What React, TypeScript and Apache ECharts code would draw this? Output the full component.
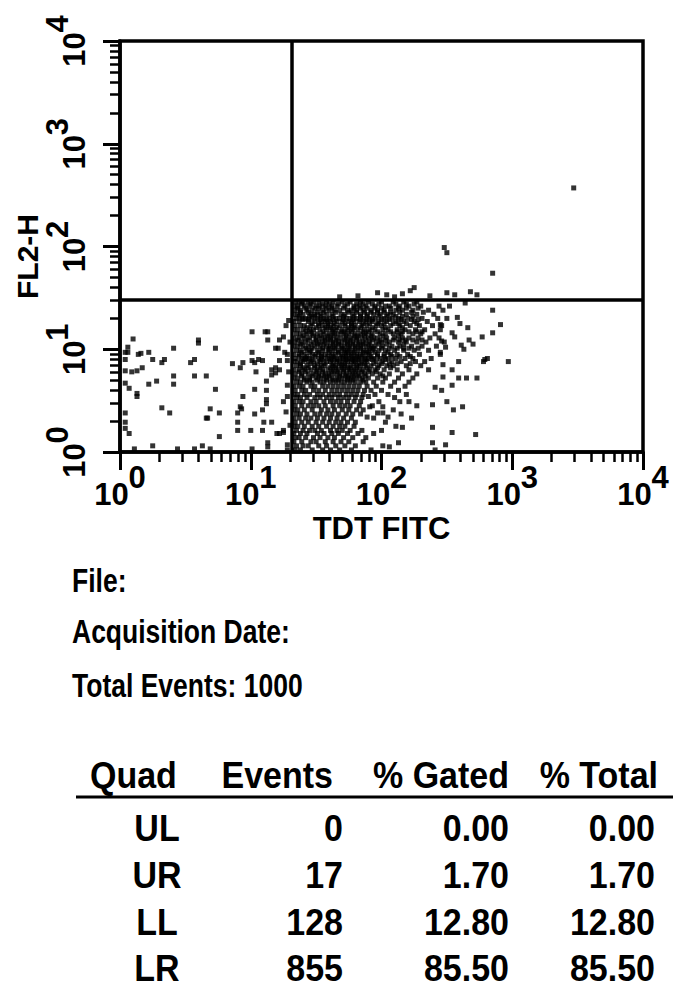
import React, { useEffect, useRef } from "react";
import * as echarts from "echarts";

const FONT = '"Liberation Sans", Arial, Helvetica, sans-serif';

// Both axes are 4-decade log scales; values below are log10 intensities.
const decades = [0, 1, 2, 3, 4];
const minorMultipliers = [2, 3, 4, 5, 6, 7, 8, 9];
const gateLog10 = [1.315, 1.479]; // [TDT FITC gate, FL2-H gate]

const urEvents: number[][] = [
  [3.47, 2.57], [2.48, 1.99], [2.5, 1.94], [2.85, 1.74], [1.97, 1.55], [2.04, 1.53],
  [2.16, 1.54], [2.22, 1.57], [2.25, 1.6], [2.5, 1.55], [2.56, 1.53], [2.68, 1.56],
  [2.73, 1.53], [1.82, 1.52], [2.1, 1.51], [2.37, 1.52], [1.68, 1.51],
];

const llEvents: number[][] = [
  [0.1, 1.1], [0.06, 1.02], [0.06, 0.97], [0.16, 0.96], [0.14, 0.95], [0.22, 0.97], [0.41, 1.01],
  [0.6, 1.09], [0.6, 1.06], [0.04, 0.9], [0.25, 0.9], [0.32, 0.87], [0.34, 0.9], [0.54, 0.87],
  [0.57, 0.9], [0.04, 0.79], [0.09, 0.78], [0.13, 0.79], [0.17, 0.82], [0.41, 0.74], [0.57, 0.74],
  [0.66, 0.74], [0.28, 0.69], [0.22, 0.66], [0.04, 0.67], [0.07, 0.62], [0.41, 0.66], [0.13, 0.57],
  [0.13, 0.54], [0.32, 0.43], [0.38, 0.38], [0.04, 0.38], [0.66, 0.33], [0.04, 0.29], [0.04, 0.23],
  [0.07, 0.18], [0.25, 0.06], [0.63, 0.06], [0.11, 0.03], [0.44, 0.03], [0.57, 0.03],
  [1.01, 1.17], [1.11, 1.17], [1.13, 1.17], [1.25, 1.12], [1.13, 1.09], [1.22, 1.09], [0.73, 1.01],
  [1.01, 0.97], [1.19, 1.01], [1.26, 0.97], [1.28, 0.95], [1.01, 0.89], [1.03, 0.87], [1.06, 0.9],
  [1.09, 0.89], [0.86, 0.86], [0.94, 0.87], [0.92, 0.82], [1.22, 0.89], [1.28, 0.89], [1.04, 0.78],
  [1.16, 0.8], [1.19, 0.82], [1.22, 0.8], [1.16, 0.75], [1.19, 0.77], [1.12, 0.69], [1.28, 0.65],
  [0.73, 0.61], [1.03, 0.61], [1.12, 0.6], [0.94, 0.54], [1.12, 0.51], [1.12, 0.47], [1.28, 0.54],
  [1.25, 0.49], [0.92, 0.44], [0.93, 0.42], [0.69, 0.42], [0.76, 0.38], [1.09, 0.41], [1.03, 0.37],
  [0.9, 0.38], [0.9, 0.29], [1.1, 0.29], [1.16, 0.29], [0.67, 0.33], [0.9, 0.21], [1.0, 0.21],
  [1.09, 0.21], [1.2, 0.18], [1.22, 0.18], [1.25, 0.19], [0.76, 0.15], [1.13, 0.09], [1.13, 0.05],
  [1.28, 0.07], [0.69, 0.03], [1.01, 0.03], [1.28, 0.02], [1.29, 1.28], [1.27, 1.23], [1.3, 1.07],
  [1.29, 0.78], [1.27, 0.39], [1.3, 0.26], [0.04, 0.97], [1.21, 1.01], [1.25, 0.21],
];

// LR events grouped by FL2-H level: [FL2-H, [TDT FITC values...]]
const lrRows: [number, number[]][] = [
  [1.46, [1.34, 1.37, 1.4, 1.44, 1.48, 1.52, 1.58, 1.63, 1.7, 1.76, 1.84, 1.9, 2.0, 2.09, 2.17, 2.27]],
  [1.42, [1.33, 1.36, 1.41, 1.45, 1.5, 1.53, 1.57, 1.62, 1.66, 1.72, 1.79, 1.83, 1.88, 1.95, 2.03, 2.06, 2.14, 2.21, 2.3, 2.44]],
  [1.38, [1.34, 1.38, 1.43, 1.47, 1.55, 1.6, 1.64, 1.68, 1.74, 1.77, 1.81, 1.86, 1.92, 1.97, 2.02, 2.11, 2.16, 2.24, 2.36]],
  [1.34, [1.33, 1.36, 1.4, 1.46, 1.49, 1.53, 1.58, 1.62, 1.69, 1.72, 1.78, 1.84, 1.89, 1.94, 1.99, 2.05, 2.09, 2.19, 2.27, 2.4]],
  [1.3, [1.35, 1.39, 1.42, 1.47, 1.51, 1.56, 1.6, 1.65, 1.68, 1.73, 1.76, 1.81, 1.86, 1.91, 1.95, 2.02, 2.08, 2.13, 2.2, 2.31, 2.43]],
  [1.27, [1.33, 1.37, 1.44, 1.49, 1.54, 1.57, 1.61, 1.66, 1.7, 1.75, 1.79, 1.83, 1.88, 1.93, 1.98, 2.04, 2.11, 2.17, 2.25, 2.35]],
  [1.23, [1.34, 1.38, 1.41, 1.46, 1.52, 1.55, 1.59, 1.63, 1.68, 1.72, 1.77, 1.8, 1.85, 1.89, 1.96, 2.0, 2.07, 2.14, 2.22, 2.29, 2.39, 2.46]],
  [1.19, [1.33, 1.36, 1.4, 1.45, 1.48, 1.53, 1.58, 1.62, 1.65, 1.7, 1.74, 1.78, 1.82, 1.87, 1.91, 1.95, 2.01, 2.05, 2.12, 2.18, 2.26, 2.33, 2.45]],
  [1.15, [1.35, 1.38, 1.43, 1.47, 1.51, 1.56, 1.6, 1.64, 1.67, 1.71, 1.75, 1.8, 1.84, 1.88, 1.93, 1.99, 2.03, 2.09, 2.15, 2.24, 2.3, 2.41]],
  [1.11, [1.33, 1.37, 1.41, 1.45, 1.5, 1.54, 1.57, 1.61, 1.66, 1.69, 1.73, 1.77, 1.81, 1.85, 1.9, 1.94, 1.97, 2.04, 2.1, 2.16, 2.21, 2.28, 2.37, 2.44]],
  [1.07, [1.34, 1.39, 1.42, 1.48, 1.52, 1.55, 1.59, 1.63, 1.67, 1.7, 1.74, 1.78, 1.83, 1.86, 1.91, 1.96, 2.0, 2.06, 2.13, 2.19, 2.27, 2.34, 2.48]],
  [1.03, [1.33, 1.36, 1.4, 1.44, 1.49, 1.53, 1.58, 1.61, 1.65, 1.69, 1.72, 1.76, 1.8, 1.84, 1.88, 1.92, 1.95, 2.01, 2.08, 2.14, 2.23, 2.31, 2.42]],
  [0.99, [1.35, 1.38, 1.43, 1.46, 1.51, 1.55, 1.59, 1.63, 1.67, 1.71, 1.74, 1.78, 1.82, 1.86, 1.89, 1.93, 1.98, 2.03, 2.1, 2.17, 2.25, 2.36]],
  [0.95, [1.33, 1.37, 1.41, 1.47, 1.5, 1.54, 1.57, 1.62, 1.65, 1.69, 1.73, 1.77, 1.81, 1.84, 1.88, 1.91, 1.97, 2.02, 2.07, 2.12, 2.2, 2.29, 2.45]],
  [0.91, [1.34, 1.39, 1.42, 1.45, 1.52, 1.56, 1.6, 1.64, 1.68, 1.71, 1.75, 1.79, 1.83, 1.87, 1.9, 1.94, 1.99, 2.05, 2.11, 2.18, 2.24, 2.38]],
  [0.88, [1.33, 1.36, 1.4, 1.44, 1.48, 1.53, 1.58, 1.61, 1.66, 1.7, 1.74, 1.77, 1.8, 1.85, 1.89, 1.96, 2.01, 2.08, 2.15, 2.26, 2.33]],
  [0.84, [1.35, 1.38, 1.43, 1.49, 1.54, 1.57, 1.62, 1.65, 1.69, 1.72, 1.76, 1.81, 1.84, 1.88, 1.92, 1.98, 2.04, 2.09, 2.19, 2.3]],
  [0.8, [1.33, 1.37, 1.41, 1.46, 1.51, 1.55, 1.59, 1.63, 1.67, 1.71, 1.75, 1.79, 1.83, 1.86, 1.91, 1.95, 2.02, 2.12, 2.21, 2.36]],
  [0.76, [1.34, 1.39, 1.44, 1.48, 1.52, 1.57, 1.6, 1.64, 1.68, 1.73, 1.78, 1.82, 1.87, 1.93, 1.99, 2.06, 2.16, 2.27]],
  [0.72, [1.33, 1.36, 1.41, 1.45, 1.5, 1.54, 1.58, 1.62, 1.66, 1.7, 1.74, 1.77, 1.81, 1.85, 1.9, 1.97, 2.03, 2.13, 2.24]],
  [0.68, [1.35, 1.38, 1.43, 1.47, 1.53, 1.56, 1.61, 1.65, 1.69, 1.72, 1.76, 1.8, 1.84, 1.88, 1.94, 2.01, 2.1, 2.21]],
  [0.64, [1.33, 1.37, 1.4, 1.46, 1.49, 1.55, 1.59, 1.63, 1.67, 1.71, 1.75, 1.79, 1.83, 1.89, 1.96, 2.07, 2.18]],
  [0.6, [1.34, 1.39, 1.42, 1.48, 1.52, 1.57, 1.62, 1.66, 1.7, 1.74, 1.78, 1.82, 1.87, 1.92, 2.0]],
  [0.56, [1.33, 1.36, 1.41, 1.45, 1.51, 1.55, 1.6, 1.64, 1.68, 1.73, 1.77, 1.81, 1.86, 1.95, 2.05, 2.19]],
  [0.53, [1.35, 1.38, 1.43, 1.49, 1.53, 1.58, 1.62, 1.67, 1.71, 1.75, 1.8, 1.85, 2.1]],
  [0.49, [1.33, 1.37, 1.4, 1.46, 1.5, 1.56, 1.61, 1.65, 1.69, 1.74, 1.79, 1.84, 1.98, 2.21]],
  [0.45, [1.34, 1.39, 1.44, 1.48, 1.52, 1.57, 1.63, 1.68, 1.72, 1.76, 1.83, 1.93, 2.27]],
  [0.41, [1.33, 1.36, 1.41, 1.47, 1.54, 1.59, 1.64, 1.7, 1.75, 1.81, 1.86, 2.09]],
  [0.37, [1.35, 1.38, 1.43, 1.49, 1.53, 1.58, 1.62, 1.67, 1.73, 1.78, 1.84, 2.15]],
  [0.33, [1.33, 1.37, 1.42, 1.46, 1.51, 1.56, 1.61, 1.66, 1.71, 1.77, 1.94, 2.23]],
  [0.29, [1.34, 1.39, 1.44, 1.5, 1.55, 1.6, 1.65, 1.69, 1.74, 1.8, 2.03]],
  [0.25, [1.33, 1.36, 1.41, 1.47, 1.52, 1.58, 1.63, 1.68, 1.72, 1.79, 2.11]],
  [0.21, [1.35, 1.4, 1.45, 1.49, 1.54, 1.61, 1.66, 1.7, 1.76, 1.85, 2.0]],
  [0.18, [1.33, 1.38, 1.43, 1.51, 1.56, 1.62, 1.67, 1.74, 1.82, 1.94]],
  [0.14, [1.34, 1.37, 1.42, 1.48, 1.53, 1.59, 1.64, 1.71, 1.78, 1.88]],
  [0.1, [1.33, 1.39, 1.46, 1.5, 1.57, 1.63, 1.69, 1.75, 1.86]],
  [0.06, [1.35, 1.4, 1.44, 1.52, 1.58, 1.65, 1.72, 1.8, 2.01]],
  [0.02, [1.34, 1.38, 1.47, 1.55, 1.61, 1.68, 1.77, 1.92]],
];

// Extra events in the darkest part of the LR cluster (between the rows above)
const lrCoreRows: [number, number[]][] = [
  [1.44, [1.39, 1.46, 1.55, 1.6, 1.67, 1.74, 1.81, 1.86, 1.93, 1.98, 2.11, 2.19, 2.25]],
  [1.4, [1.36, 1.42, 1.49, 1.52, 1.58, 1.62, 1.71, 1.79, 1.84, 1.89, 1.95, 2.0, 2.07, 2.13, 2.19, 2.28]],
  [1.36, [1.38, 1.44, 1.51, 1.56, 1.65, 1.75, 1.81, 1.87, 1.92, 1.97, 2.02, 2.07, 2.14, 2.23, 2.32]],
  [1.32, [1.37, 1.45, 1.49, 1.54, 1.63, 1.71, 1.79, 1.84, 1.89, 1.98, 2.04, 2.11, 2.16, 2.24]],
  [1.29, [1.4, 1.44, 1.53, 1.58, 1.63, 1.71, 1.78, 1.84, 1.89, 1.93, 2.0, 2.06, 2.15, 2.23, 2.28]],
  [1.25, [1.47, 1.52, 1.59, 1.64, 1.72, 1.77, 1.86, 1.91, 1.97, 2.02, 2.09, 2.13, 2.19, 2.27]],
  [1.21, [1.43, 1.5, 1.57, 1.61, 1.66, 1.75, 1.79, 1.84, 1.93, 2.03, 2.16]],
  [1.17, [1.42, 1.46, 1.55, 1.63, 1.69, 1.72, 1.77, 1.86, 1.9, 1.97, 2.07, 2.12, 2.16, 2.21, 2.27, 2.31]],
  [1.13, [1.4, 1.48, 1.53, 1.59, 1.63, 1.73, 1.79, 1.82, 1.87, 1.92, 2.01, 2.13]],
  [1.09, [1.36, 1.44, 1.5, 1.57, 1.61, 1.65, 1.72, 1.76, 1.81, 1.88, 1.93, 1.99, 2.03, 2.09, 2.14, 2.18, 2.24, 2.31]],
  [1.05, [1.38, 1.46, 1.51, 1.56, 1.63, 1.67, 1.74, 1.78, 1.82, 1.86, 1.9, 1.98, 2.04, 2.17]],
  [1.01, [1.42, 1.47, 1.55, 1.6, 1.64, 1.7, 1.75, 1.8, 1.84, 1.91, 1.94, 2.0, 2.06, 2.12, 2.17, 2.21, 2.28]],
  [0.97, [1.39, 1.45, 1.52, 1.6, 1.67, 1.72, 1.75, 1.79, 1.86, 1.9, 1.95, 2.05]],
  [0.93, [1.37, 1.43, 1.49, 1.54, 1.59, 1.63, 1.7, 1.73, 1.77, 1.81, 1.85, 1.92, 1.97, 2.02, 2.08, 2.14, 2.22]],
  [0.9, [1.41, 1.47, 1.54, 1.62, 1.66, 1.73, 1.78, 1.82, 1.88, 1.93, 2.03]],
  [0.86, [1.38, 1.46, 1.51, 1.56, 1.63, 1.68, 1.72, 1.79, 1.83, 1.87, 1.94, 2.0, 2.06, 2.12, 2.22]],
  [0.82, [1.4, 1.44, 1.49, 1.53, 1.61, 1.65, 1.7, 1.74, 1.77, 1.81, 1.89, 1.97, 2.07]],
  [0.78, [1.37, 1.42, 1.5, 1.55, 1.62, 1.66, 1.71, 1.76, 1.8, 1.85, 1.9, 1.96]],
  [0.74, [1.39, 1.47, 1.52, 1.56, 1.6, 1.68, 1.72, 1.75, 1.79, 1.83, 1.88, 2.01]],
  [0.7, [1.41, 1.45, 1.51, 1.58, 1.63, 1.67, 1.74, 1.78, 1.86]],
];

const lrSparse: number[][] = [
  [2.13, 0.6], [2.14, 0.49], [2.41, 0.63], [2.5, 0.49], [2.55, 0.41], [2.62, 0.44], [2.73, 0.72],
  [2.65, 0.72], [2.59, 0.72], [2.79, 0.9], [2.97, 0.88], [2.85, 1.16], [2.91, 1.24], [2.85, 1.38],
  [2.77, 1.12], [2.54, 0.19], [2.72, 0.17], [2.01, 0.38], [2.05, 0.34], [2.16, 0.24], [2.39, 0.09],
  [2.41, 0.02], [2.13, 0.09], [2.06, 0.05], [2.47, 0.85], [2.54, 0.8], [2.47, 0.73], [2.54, 0.65],
  [2.46, 0.6], [2.78, 0.88], [2.81, 0.91], [2.59, 0.88], [2.49, 0.07], [1.9, 0.54], [1.91, 0.44],
  [2.01, 0.44], [2.39, 0.46], [1.89, 0.34], [1.97, 0.38], [2.39, 0.24], [2.47, 1.38], [2.5, 1.3],
  [2.45, 1.24], [2.6, 1.25], [2.66, 1.21], [2.54, 1.16], [2.56, 1.12], [2.67, 1.09], [2.7, 1.05],
  [2.46, 1.08], [2.49, 1.02], [2.45, 0.97], [2.61, 1.04], [2.63, 1.0], [2.58, 1.31], [2.52, 1.42],
  [2.64, 1.45],
];

const infoLines = ["File:", "Acquisition Date:", "Total Events: 1000"];
const tableHeader = ["Quad", "Events", "% Gated", "% Total"];
const quadNames = ["UL", "UR", "LL", "LR"];
const quadEvents = [0, 17, 128, 855];
const quadGated = [0.0, 1.7, 12.8, 85.5];
const quadTotal = [0.0, 1.7, 12.8, 85.5];

const minorTicks = decades
  .slice(0, -1)
  .flatMap((d) => minorMultipliers.map((m) => d + Math.log10(m)));

const rowsToEvents = (rows: [number, number[]][]) =>
  rows.flatMap(([y, xs]) => xs.map((x) => [x, y]));
const lrEvents = [...rowsToEvents(lrRows), ...rowsToEvents(lrCoreRows), ...lrSparse];
const allEvents = [...urEvents, ...llEvents, ...lrEvents];

const labelRich = {
  b: { fontFamily: FONT, fontSize: 31, fontWeight: "bold", color: "#000", padding: [17, 0, 0, 0] },
  s: { fontFamily: FONT, fontSize: 31, fontWeight: "bold", color: "#000", verticalAlign: "top" },
};
const powerLabel = (v: number) => `{b|10}{s|${Math.round(v)}}`;

function textEl(text: string, x: number, y: number, size: number, align: string, sy: number) {
  return {
    type: "text",
    x,
    y,
    scaleY: sy,
    silent: true,
    style: {
      text,
      fill: "#000",
      fontSize: size,
      fontWeight: "bold",
      fontFamily: FONT,
      align,
      verticalAlign: "middle",
    },
  };
}

function buildGraphic() {
  const els: any[] = [];
  const infoY = [580, 631, 685];
  infoLines.forEach((t, i) => els.push(textEl(t, 72, infoY[i], 26.5, "left", 1.25)));
  const headerY = 775;
  els.push(textEl(tableHeader[0], 90, headerY, 34, "left", 1.1));
  els.push(textEl(tableHeader[1], 333, headerY, 34, "right", 1.1));
  els.push(textEl(tableHeader[2], 509, headerY, 34, "right", 1.1));
  els.push(textEl(tableHeader[3], 658, headerY, 34, "right", 1.1));
  els.push({
    type: "line",
    silent: true,
    shape: { x1: 76, y1: 797, x2: 673, y2: 797 },
    style: { stroke: "#000", lineWidth: 3 },
  });
  const rowY = [828, 875, 922, 968];
  quadNames.forEach((q, i) => {
    els.push(textEl(q, 157, rowY[i], 34, "center", 1.1));
    els.push(textEl(String(quadEvents[i]), 343, rowY[i], 34, "right", 1.1));
    els.push(textEl(quadGated[i].toFixed(2), 509, rowY[i], 34, "right", 1.1));
    els.push(textEl(quadTotal[i].toFixed(2), 655, rowY[i], 34, "right", 1.1));
  });
  return els;
}

const axisBase = {
  type: "value",
  min: decades[0],
  max: decades[decades.length - 1],
  splitLine: { show: false },
};

const option: any = {
  animation: false,
  backgroundColor: "#fff",
  grid: {
    left: 120,
    top: 41,
    width: 523,
    height: 411,
    show: true,
    borderColor: "#000",
    borderWidth: 3.5,
    containLabel: false,
  },
  xAxis: [
    {
      ...axisBase,
      interval: 1,
      position: "bottom",
      axisLine: { show: true, onZero: false, lineStyle: { color: "#000", width: 3.5 } },
      axisTick: { show: true, length: 18, lineStyle: { color: "#000", width: 3 } },
      axisLabel: {
        show: true,
        margin: 10,
        formatter: powerLabel,
        rich: labelRich,
        showMinLabel: true,
        showMaxLabel: true,
      },
      name: "TDT FITC",
      nameLocation: "middle",
      nameGap: 61,
      nameMoveOverlap: false,
      nameTextStyle: { fontFamily: FONT, fontSize: 31, fontWeight: "bold", color: "#000" },
    },
    {
      ...axisBase,
      position: "bottom",
      axisLine: { show: false, onZero: false },
      axisTick: { show: true, length: 10, customValues: minorTicks, lineStyle: { color: "#000", width: 2.5 } },
      axisLabel: { show: false },
    },
  ],
  yAxis: [
    {
      ...axisBase,
      interval: 1,
      position: "left",
      axisLine: { show: true, onZero: false, lineStyle: { color: "#000", width: 3.5 } },
      axisTick: { show: true, length: 17, lineStyle: { color: "#000", width: 3 } },
      axisLabel: {
        show: true,
        rotate: 90,
        margin: 30,
        formatter: powerLabel,
        rich: labelRich,
        showMinLabel: true,
        showMaxLabel: true,
      },
      name: "FL2-H",
      nameLocation: "middle",
      nameRotate: 90,
      nameGap: 78,
      nameMoveOverlap: false,
      nameTextStyle: {
        fontFamily: FONT,
        fontSize: 30,
        fontWeight: "bold",
        color: "#000",
        padding: [0, 20, 0, 0],
      },
    },
    {
      ...axisBase,
      position: "left",
      axisLine: { show: false, onZero: false },
      axisTick: { show: true, length: 10, customValues: minorTicks, lineStyle: { color: "#000", width: 2.5 } },
      axisLabel: { show: false },
    },
  ],
  series: [
    {
      type: "scatter",
      xAxisIndex: 0,
      yAxisIndex: 0,
      symbol: "rect",
      symbolSize: 5,
      itemStyle: { color: "#000" },
      silent: true,
      clip: true,
      data: allEvents,
      markLine: {
        silent: true,
        symbol: ["none", "none"],
        label: { show: false },
        lineStyle: { color: "#000", width: 3.5, type: "solid" },
        data: [{ xAxis: gateLog10[0] }, { yAxis: gateLog10[1] }],
      },
    },
  ],
  graphic: buildGraphic(),
};

export default function App() {
  const ref = useRef<HTMLDivElement>(null);
  useEffect(() => {
    if (!ref.current) return;
    const chart = echarts.init(ref.current, null, { renderer: "svg" });
    chart.setOption(option);
    return () => chart.dispose();
  }, []);
  return (
    <div
      ref={ref}
      style={{ position: "absolute", left: 0, top: 0, width: 675, height: 1008, background: "#fff" }}
    />
  );
}
